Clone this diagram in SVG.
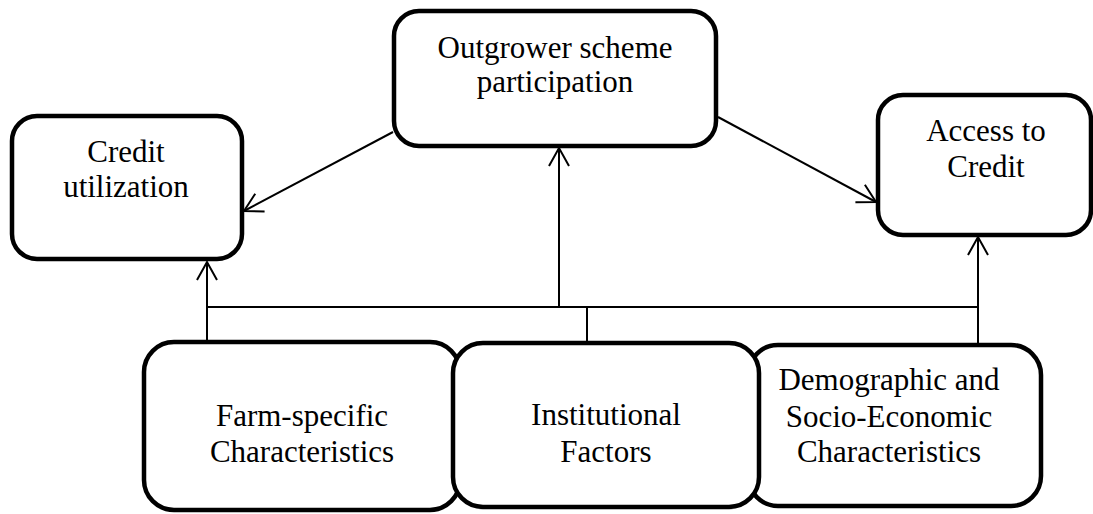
<svg xmlns="http://www.w3.org/2000/svg" width="1093" height="514" viewBox="0 0 1093 514">
  <style>
    .box { fill: #ffffff; stroke: #000000; stroke-width: 4.5; }
    .lbl { font-family: "Liberation Serif", "Times New Roman", serif; font-size: 31px; fill: #000000; text-anchor: middle; }
    .conn { fill: none; stroke: #000000; stroke-width: 2; }
  </style>
  <defs>
    <marker id="arr" markerUnits="userSpaceOnUse" markerWidth="24" markerHeight="24" viewBox="-20 -12 24 24" refX="0" refY="0" orient="auto">
      <path d="M -18 -10 L 0 0 L -18 10" fill="none" stroke="#000000" stroke-width="2"/>
    </marker>
  </defs>
  <rect width="1093" height="514" fill="#ffffff"/>

  <g id="connectors">
    <line class="conn" x1="207" y1="307" x2="978" y2="307"/>
    <line class="conn" x1="207" y1="342" x2="207" y2="262" marker-end="url(#arr)"/>
    <line class="conn" x1="559" y1="307" x2="559" y2="148" marker-end="url(#arr)"/>
    <line class="conn" x1="587" y1="307" x2="587" y2="343"/>
    <line class="conn" x1="978" y1="345" x2="978" y2="237" marker-end="url(#arr)"/>
    <line class="conn" x1="718" y1="117" x2="876" y2="202" marker-end="url(#arr)"/>
    <line class="conn" x1="393" y1="132" x2="244" y2="211" marker-end="url(#arr)"/>
  </g>

  <g id="outgrower">
    <rect class="box" x="394" y="11" width="322" height="135" rx="25" ry="25"/>
    <text class="lbl" x="555" y="58">Outgrower scheme</text>
    <text class="lbl" x="555" y="92">participation</text>
  </g>

  <g id="credit-utilization">
    <rect class="box" x="12" y="116" width="230" height="143" rx="25" ry="25"/>
    <text class="lbl" x="126" y="162">Credit</text>
    <text class="lbl" x="126" y="197">utilization</text>
  </g>

  <g id="access-to-credit">
    <rect class="box" x="878" y="95" width="213" height="140" rx="25" ry="25"/>
    <text class="lbl" x="986" y="141">Access to</text>
    <text class="lbl" x="986" y="177">Credit</text>
  </g>

  <g id="farm-specific">
    <rect class="box" x="144" y="342" width="316" height="168" rx="30" ry="30"/>
    <text class="lbl" x="302" y="426">Farm-specific</text>
    <text class="lbl" x="302" y="462">Characteristics</text>
  </g>

  <g id="demographic">
    <rect class="box" x="748" y="345" width="293" height="161" rx="30" ry="30"/>
    <text class="lbl" x="889" y="390">Demographic and</text>
    <text class="lbl" x="889" y="427">Socio-Economic</text>
    <text class="lbl" x="889" y="462">Characteristics</text>
  </g>

  <g id="institutional">
    <rect class="box" x="453" y="343" width="306" height="164" rx="30" ry="30"/>
    <text class="lbl" x="606" y="425">Institutional</text>
    <text class="lbl" x="606" y="462">Factors</text>
  </g>
</svg>
